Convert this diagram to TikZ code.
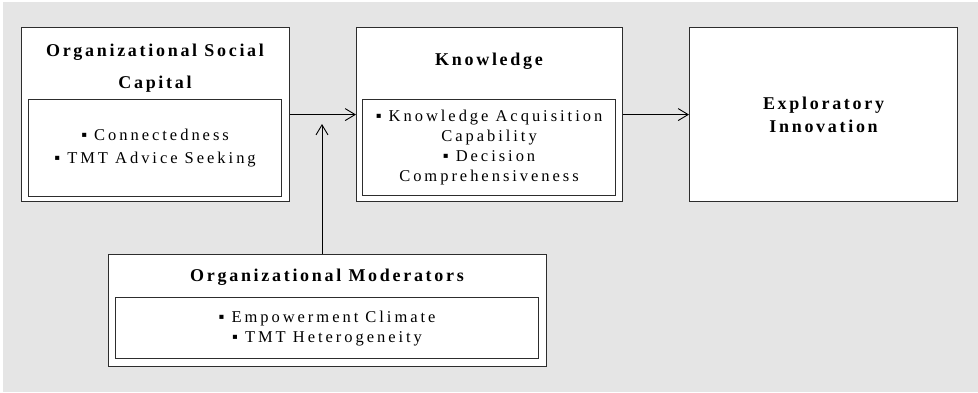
\documentclass[tikz,border=0pt]{standalone}
\usepackage{fontspec}
\setmainfont{Liberation Serif}
\newfontfamily\spaced[LetterSpace=15]{Liberation Serif}
\newfontfamily\spacedwide[LetterSpace=18]{Liberation Serif}
\usetikzlibrary{arrows.meta, positioning}
\definecolor{bggray}{RGB}{229,229,229}
\definecolor{boxline}{RGB}{45,45,45}

\begin{document}
\begin{tikzpicture}[x=1pt, y=-1pt,
    box/.style={draw=boxline, line width=1.1pt, fill=white, anchor=north west, inner sep=0pt},
    title/.style={font=\spaced\bfseries\fontsize{18}{32}\selectfont, align=center},
    items/.style={font=\spacedwide\fontsize{16.5}{20}\selectfont, align=center},
    link/.style={-{Straight Barb[length=10pt,width=12pt]}, line width=0.9pt}]
  \useasboundingbox (0,0) rectangle (978,392);
  \fill[bggray] (3,2) rectangle (978,392);

  % outer boxes
  \node[box, minimum width=268, minimum height=174] (capital) at (21,27) {};
  \node[box, minimum width=266, minimum height=174] (knowledge) at (356,27) {};
  \node[box, minimum width=268, minimum height=174, title, font=\spaced\bfseries\fontsize{18}{23}\selectfont]
    (innovation) at (689,27) {Exploratory\\Innovation};
  \node[box, minimum width=438, minimum height=112] (moderators) at (108,254) {};

  % titles
  \node[title] (capital-t) at (155,68) {Organizational Social\\Capital};
  \node[title] (knowledge-t) at (489,61) {Knowledge};
  \node[title] (moderators-t) at (327,277) {Organizational Moderators};

  % inner boxes
  \node[box, minimum width=253, minimum height=97, items, font=\spacedwide\fontsize{16.5}{22.5}\selectfont]
    (capital-in) at (28,99) {▪ Connectedness\\▪ TMT Advice Seeking};
  \node[box, minimum width=253, minimum height=96, items]
    (knowledge-in) at (362,99) {▪ Knowledge Acquisition\\Capability\\▪ Decision\\Comprehensiveness};
  \node[box, minimum width=423, minimum height=61, items]
    (moderators-in) at (115,297) {▪ Empowerment Climate\\▪ TMT Heterogeneity};

  % arrows
  \coordinate (tip) at (322,124);
  \draw[link] (capital) -- (knowledge);
  \draw[link] (knowledge) -- (innovation);
  \draw[link] (moderators.north -| tip) -- (tip);
\end{tikzpicture}
\end{document}
